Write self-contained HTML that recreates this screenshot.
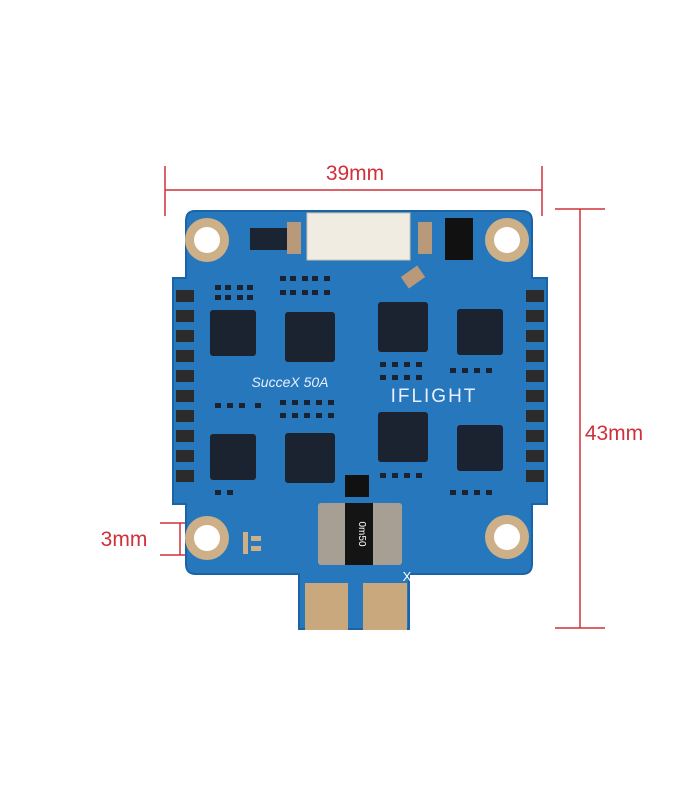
<!DOCTYPE html>
<html><head><meta charset="utf-8"><style>
html,body{margin:0;padding:0;background:#fff;}
svg{display:block;}
text{font-family:"Liberation Sans",sans-serif;}
</style></head><body>
<svg width="700" height="800" viewBox="0 0 700 800" xmlns="http://www.w3.org/2000/svg">
<rect width="700" height="800" fill="#fff"/>
<g stroke="#d0303a" stroke-width="1.5" fill="none">
<line x1="165" y1="166" x2="165" y2="216"/>
<line x1="542" y1="166" x2="542" y2="216"/>
<line x1="165" y1="190" x2="542" y2="190"/>
<line x1="555" y1="209" x2="605" y2="209"/>
<line x1="555" y1="628" x2="605" y2="628"/>
<line x1="580" y1="209" x2="580" y2="628"/>
<line x1="160" y1="523" x2="208" y2="523"/>
<line x1="160" y1="555" x2="208" y2="555"/>
<line x1="180" y1="523" x2="180" y2="555"/>
</g>
<text x="355" y="180" font-size="21" fill="#d0303a" text-anchor="middle">39mm</text>
<text x="614" y="440" font-size="21" fill="#d0303a" text-anchor="middle">43mm</text>
<text x="124" y="546" font-size="21" fill="#d0303a" text-anchor="middle">3mm</text>
<path d="M195,210 H522 Q533,210 533,221 V277 H548 V505 H533 V564 Q533,575 522,575 H410 V630 H298 V575 H196 Q185,575 185,564 V505 H172 V277 H185 V221 Q185,210 195,210 Z" fill="#1a63a6"/>
<path d="M195,212 H522 Q531,212 531,221 V279 H546 V503 H531 V564 Q531,573 522,573 H408 V628 H300 V573 H196 Q187,573 187,564 V503 H174 V279 H187 V221 Q187,212 195,212 Z" fill="#2777bd"/>
<g fill="#cdb088"><circle cx="207" cy="240" r="22"/><circle cx="507" cy="240" r="22"/><circle cx="207" cy="538" r="22"/><circle cx="507" cy="537" r="22"/></g>
<g fill="#fff"><circle cx="207" cy="240" r="13"/><circle cx="507" cy="240" r="13"/><circle cx="207" cy="538" r="13"/><circle cx="507" cy="537" r="13"/></g>
<rect x="307" y="213" width="103" height="47" fill="#f1ece2" stroke="#c9c3b5"/>
<rect x="250" y="228" width="40" height="22" fill="#1a2433"/>
<rect x="287" y="222" width="14" height="32" fill="#b89a7a"/>
<rect x="418" y="222" width="14" height="32" fill="#b89a7a"/>
<rect x="445" y="218" width="28" height="42" fill="#111"/>
<rect x="403" y="270" width="20" height="14" fill="#b89a7a" transform="rotate(-35 413 277)"/>
<!-- small smd parts -->
<g fill="#1b2330">
<rect x="215" y="285" width="6" height="5"/><rect x="225" y="285" width="6" height="5"/><rect x="237" y="285" width="6" height="5"/><rect x="247" y="285" width="6" height="5"/>
<rect x="215" y="295" width="6" height="5"/><rect x="225" y="295" width="6" height="5"/><rect x="237" y="295" width="6" height="5"/><rect x="247" y="295" width="6" height="5"/>
<rect x="280" y="276" width="6" height="5"/><rect x="290" y="276" width="6" height="5"/><rect x="302" y="276" width="6" height="5"/><rect x="312" y="276" width="6" height="5"/><rect x="324" y="276" width="6" height="5"/>
<rect x="280" y="290" width="6" height="5"/><rect x="290" y="290" width="6" height="5"/><rect x="302" y="290" width="6" height="5"/><rect x="312" y="290" width="6" height="5"/><rect x="324" y="290" width="6" height="5"/>
<rect x="380" y="362" width="6" height="5"/><rect x="392" y="362" width="6" height="5"/><rect x="404" y="362" width="6" height="5"/><rect x="416" y="362" width="6" height="5"/>
<rect x="380" y="375" width="6" height="5"/><rect x="392" y="375" width="6" height="5"/><rect x="404" y="375" width="6" height="5"/><rect x="416" y="375" width="6" height="5"/>
<rect x="450" y="368" width="6" height="5"/><rect x="462" y="368" width="6" height="5"/><rect x="474" y="368" width="6" height="5"/><rect x="486" y="368" width="6" height="5"/>
<rect x="215" y="403" width="6" height="5"/><rect x="227" y="403" width="6" height="5"/><rect x="239" y="403" width="6" height="5"/><rect x="255" y="403" width="6" height="5"/>
<rect x="280" y="400" width="6" height="5"/><rect x="292" y="400" width="6" height="5"/><rect x="304" y="400" width="6" height="5"/><rect x="316" y="400" width="6" height="5"/><rect x="328" y="400" width="6" height="5"/>
<rect x="280" y="413" width="6" height="5"/><rect x="292" y="413" width="6" height="5"/><rect x="304" y="413" width="6" height="5"/><rect x="316" y="413" width="6" height="5"/><rect x="328" y="413" width="6" height="5"/>
<rect x="380" y="473" width="6" height="5"/><rect x="392" y="473" width="6" height="5"/><rect x="404" y="473" width="6" height="5"/><rect x="416" y="473" width="6" height="5"/>
<rect x="450" y="490" width="6" height="5"/><rect x="462" y="490" width="6" height="5"/><rect x="474" y="490" width="6" height="5"/><rect x="486" y="490" width="6" height="5"/>
<rect x="215" y="490" width="6" height="5"/><rect x="227" y="490" width="6" height="5"/>
</g>
<g fill="#1b2330">
<rect x="210" y="310" width="46" height="46" rx="3"/>
<rect x="285" y="312" width="50" height="50" rx="3"/>
<rect x="378" y="302" width="50" height="50" rx="3"/>
<rect x="457" y="309" width="46" height="46" rx="3"/>
<rect x="210" y="434" width="46" height="46" rx="3"/>
<rect x="285" y="433" width="50" height="50" rx="3"/>
<rect x="378" y="412" width="50" height="50" rx="3"/>
<rect x="457" y="425" width="46" height="46" rx="3"/>
</g>
<g fill="#2b2b2b">
<rect x="176" y="290" width="18" height="12"/><rect x="176" y="310" width="18" height="12"/><rect x="176" y="330" width="18" height="12"/><rect x="176" y="350" width="18" height="12"/><rect x="176" y="370" width="18" height="12"/><rect x="176" y="390" width="18" height="12"/><rect x="176" y="410" width="18" height="12"/><rect x="176" y="430" width="18" height="12"/><rect x="176" y="450" width="18" height="12"/><rect x="176" y="470" width="18" height="12"/>
<rect x="526" y="290" width="18" height="12"/><rect x="526" y="310" width="18" height="12"/><rect x="526" y="330" width="18" height="12"/><rect x="526" y="350" width="18" height="12"/><rect x="526" y="370" width="18" height="12"/><rect x="526" y="390" width="18" height="12"/><rect x="526" y="410" width="18" height="12"/><rect x="526" y="430" width="18" height="12"/><rect x="526" y="450" width="18" height="12"/><rect x="526" y="470" width="18" height="12"/>
</g>
<text x="290" y="387" font-size="14" fill="#e8f0ff" text-anchor="middle" font-style="italic">SucceX 50A</text>
<text x="434" y="402" font-size="19" fill="#e8f0ff" text-anchor="middle" letter-spacing="2">IFLIGHT</text>
<rect x="345" y="475" width="24" height="22" fill="#111"/>
<rect x="318" y="503" width="84" height="62" rx="3" fill="#a89f94"/>
<rect x="345" y="503" width="28" height="62" fill="#141414"/>
<text x="359" y="534" font-size="10" fill="#fff" text-anchor="middle" transform="rotate(90 359 534)">0m50</text>
<rect x="243" y="532" width="5" height="22" fill="#cdb088"/><rect x="251" y="536" width="10" height="5" fill="#cdb088"/><rect x="251" y="546" width="10" height="5" fill="#cdb088"/>
<text x="407" y="581" font-size="13" fill="#fff" text-anchor="middle">X</text>
<rect x="305" y="583" width="43" height="47" fill="#c9a87e"/>
<rect x="363" y="583" width="44" height="47" fill="#c9a87e"/>
</svg>
</body></html>
